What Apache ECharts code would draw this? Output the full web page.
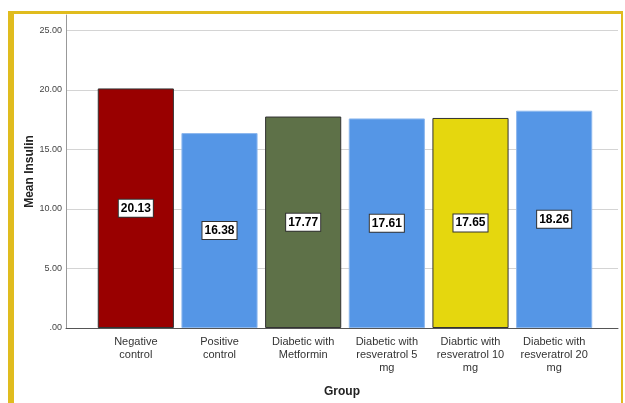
<!DOCTYPE html>
<html><head><meta charset="utf-8">
<script src="https://cdn.jsdelivr.net/npm/echarts@6/dist/echarts.min.js"></script>
<style>html,body{margin:0;padding:0;background:#fff}#c{width:625px;height:403px}</style>
</head><body><div id="c"></div>
<script>
var categories = ["Negative\ncontrol","Positive\ncontrol","Diabetic with\nMetformin","Diabetic with\nresveratrol 5\nmg","Diabrtic with\nresveratrol 10\nmg","Diabetic with\nresveratrol 20\nmg"];
var values = [20.13, 16.38, 17.77, 17.61, 17.65, 18.26];
var barColors = ["#990000","#5596E6","#5E7148","#5596E6","#E5D70E","#5596E6"];
var barBorders = ["#333333","#8DB8EE","#333333","#8DB8EE","#333333","#8DB8EE"];
var yTicks = [0,5,10,15,20,25];

var chart = echarts.init(document.getElementById('c'));
var font = 'Liberation Sans, Arial, sans-serif';
chart.setOption({
  animation:false,
  grid:[
    {left:66, right:7, top:15, bottom:75},
    {left:66, right:7, top:30.5, bottom:75},
    {left:94, width:502, top:30.5, bottom:75}
  ],
  xAxis:[
    {gridIndex:0, type:'category', data:categories, show:false},
    {gridIndex:1, type:'category', data:categories, axisLine:{show:true,lineStyle:{color:'#555',width:1}}, axisTick:{show:false}, axisLabel:{show:false},
     name:'Group', nameLocation:'middle', nameGap:58, nameTextStyle:{fontFamily:font,fontWeight:'bold',fontSize:12,color:'#222'}},
    {gridIndex:2, type:'category', data:categories, axisLine:{show:false}, axisTick:{show:false},
     axisLabel:{fontFamily:font,fontSize:11,color:'#333',lineHeight:13,margin:7,interval:0}}
  ],
  yAxis:[
    {gridIndex:0, type:'value', min:0, max:1, axisLine:{show:true,lineStyle:{color:'#999'}}, axisTick:{show:false}, axisLabel:{show:false}, splitLine:{show:false},
     name:'Mean Insulin', nameLocation:'middle', nameGap:30, nameTextStyle:{fontFamily:font,fontWeight:'bold',fontSize:12,color:'#222'}},
    {gridIndex:1, type:'value', min:0, max:25, interval:5, axisLine:{show:false}, axisTick:{show:false},
     axisLabel:{fontFamily:font,fontSize:9,color:'#444',margin:4,formatter:function(v){return v===0?'.00':v.toFixed(2);}},
     splitLine:{show:true,lineStyle:{color:'#d4d4d4',width:1}}},
    {gridIndex:2, type:'value', min:0, max:25, interval:5, show:false}
  ],
  series:[{
    type:'bar', xAxisIndex:2, yAxisIndex:2, barCategoryGap:'9%',
    data: values.map(function(v,i){return {value:v, itemStyle:{color:barColors[i], borderColor:barBorders[i], borderWidth:1}};}),
    label:{show:true, position:'inside', formatter:function(p){return p.value.toFixed(2);},
      fontFamily:font, fontWeight:'bold', fontSize:12, color:'#000', backgroundColor:'#fff', borderColor:'#333', borderWidth:1, padding:[3,2,2,2]}
  }],
  graphic:[
    {type:'rect', shape:{x:8,y:11,width:615,height:3}, style:{fill:'#E0BC1E'}, silent:true},
    {type:'rect', shape:{x:8,y:11,width:6,height:392}, style:{fill:'#E0BC1E'}, silent:true},
    {type:'rect', shape:{x:621,y:11,width:2,height:392}, style:{fill:'#E0BC1E'}, silent:true}
  ]
});
</script></body></html>
